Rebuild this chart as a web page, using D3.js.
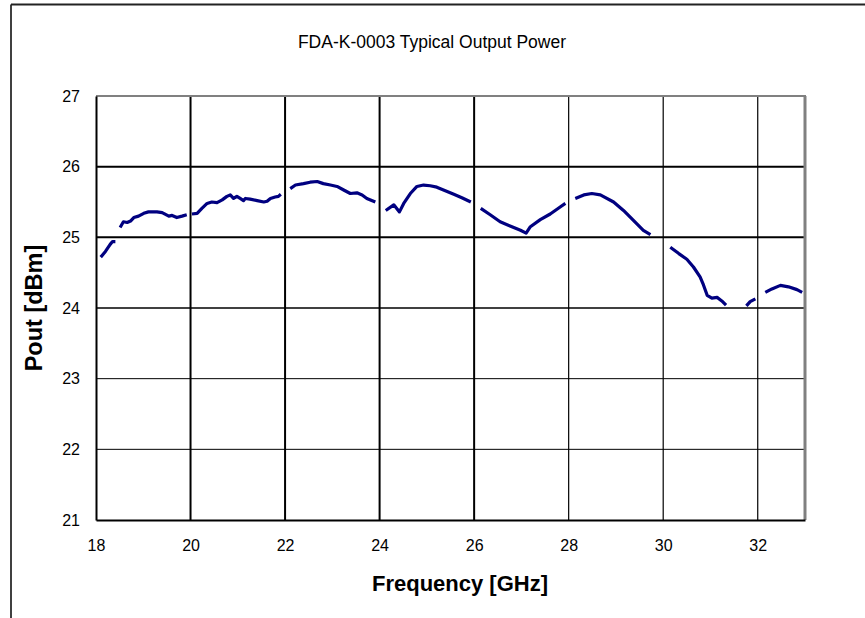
<!DOCTYPE html>
<html><head><meta charset="utf-8">
<script src="https://cdn.jsdelivr.net/npm/d3@7"></script>
<style>body{margin:0;background:#fff}svg{display:block}text{font-family:"Liberation Sans",Arial,sans-serif}</style>
</head><body><svg id="c" width="865" height="618"></svg>
<script>
const title = "FDA-K-0003 Typical Output Power";
const xTitle = "Frequency [GHz]";
const yTitle = "Pout [dBm]";
const xTicks = [18,20,22,24,26,28,30,32];
const yTicks = [21,22,23,24,25,26,27];
// null marks a break in the trace
const freq = [18.10,18.20,18.30,18.35,18.41,null,
  18.51,18.58,18.66,18.73,18.80,18.90,19.01,19.11,19.29,19.40,19.54,19.61,19.71,19.82,19.92,null,
  20.03,20.14,20.24,20.35,20.45,20.56,20.67,20.77,20.84,20.91,20.98,21.05,21.12,21.16,21.26,21.41,21.55,21.62,21.69,21.79,21.86,21.91,null,
  22.11,22.22,22.39,22.53,22.68,22.81,22.96,23.10,23.24,23.38,23.52,23.63,23.73,23.91,null,
  24.13,24.30,24.42,24.51,24.65,24.79,24.93,25.07,25.21,25.39,25.57,25.74,25.93,null,
  26.14,26.34,26.55,26.76,26.98,27.10,27.19,27.40,27.61,27.82,27.93,null,
  28.14,28.32,28.49,28.67,28.95,29.16,29.37,29.58,29.73,null,
  30.15,30.33,30.50,30.64,30.78,30.85,30.93,31.03,31.14,31.24,31.33,null,
  31.76,31.84,31.95,null,
  32.16,32.30,32.48,32.65,32.83,32.94];
const pout = [24.72,24.80,24.90,24.94,24.94,null,
  25.14,25.22,25.21,25.23,25.28,25.30,25.34,25.36,25.36,25.35,25.30,25.31,25.28,25.30,25.32,null,
  25.33,25.34,25.41,25.48,25.50,25.49,25.53,25.58,25.60,25.55,25.58,25.55,25.52,25.55,25.54,25.52,25.50,25.51,25.55,25.57,25.58,25.61,null,
  25.69,25.74,25.76,25.78,25.79,25.76,25.74,25.72,25.67,25.62,25.63,25.60,25.55,25.50,null,
  25.38,25.46,25.36,25.48,25.62,25.72,25.74,25.73,25.71,25.66,25.61,25.56,25.50,null,
  25.41,25.32,25.22,25.16,25.10,25.06,25.15,25.25,25.33,25.43,25.48,null,
  25.55,25.60,25.62,25.60,25.50,25.38,25.24,25.10,25.04,null,
  24.86,24.77,24.69,24.58,24.44,24.33,24.18,24.14,24.15,24.10,24.04,null,
  24.03,24.09,24.13,null,
  24.22,24.27,24.32,24.30,24.26,24.22];
const thickV = [20,22,24,26];
const gridW = {26:2, 25:2, 24:1.5, 23:1, 22:1};

const svg = d3.select("#c");
const L=96, R=805, T=96, B=520;
const x = d3.scaleLinear().domain([18,33]).range([L,R]);
const y = d3.scaleLinear().domain([21,27]).range([B,T]);

// outer frame
svg.append("line").attr("x1",11).attr("x2",11).attr("y1",4.5).attr("y2",618).attr("stroke","#000").attr("stroke-width",1.5);
svg.append("line").attr("x1",11).attr("x2",865).attr("y1",4.5).attr("y2",4.5).attr("stroke","#222").attr("stroke-width",2);

// gridlines
svg.append("g").selectAll("line").data(xTicks.filter(d=>d>18)).join("line")
  .attr("x1",d=>x(d)).attr("x2",d=>x(d)).attr("y1",T).attr("y2",B)
  .attr("stroke","#000").attr("stroke-width",d=>thickV.includes(d)?2:1.2);
svg.append("g").selectAll("line").data(yTicks.filter(d=>d>21&&d<27)).join("line")
  .attr("x1",L).attr("x2",R).attr("y1",d=>y(d)).attr("y2",d=>y(d))
  .attr("stroke","#000").attr("stroke-width",d=>gridW[d]||1);

// plot border: top/right gray
svg.append("line").attr("x1",L).attr("x2",R+1).attr("y1",T).attr("y2",T).attr("stroke","#808080").attr("stroke-width",2);
svg.append("line").attr("x1",R).attr("x2",R).attr("y1",T).attr("y2",B).attr("stroke","#808080").attr("stroke-width",3);

// axes
const xa = svg.append("g").attr("transform",`translate(0,${B})`)
  .call(d3.axisBottom(x).tickValues(xTicks).tickSize(0).tickPadding(20).tickFormat(d3.format("d")));
const ya = svg.append("g").attr("transform",`translate(${L},0)`)
  .call(d3.axisLeft(y).tickValues(yTicks).tickSize(0).tickPadding(16).tickFormat(d3.format("d")));
[xa,ya].forEach(a=>{a.select(".domain").attr("stroke","#000").attr("stroke-width",2);
  a.selectAll("text").attr("font-size",16).attr("fill","#000").attr("font-family","Liberation Sans, Arial, sans-serif");});

// data line
const line = d3.line().defined((d,i)=>freq[i]!==null&&pout[i]!==null)
  .x((d,i)=>x(freq[i])).y((d,i)=>y(pout[i]));
svg.append("path").datum(freq).attr("d",line).attr("fill","none")
  .attr("stroke","#000080").attr("stroke-width",3.2).attr("stroke-linejoin","round");

// titles
svg.append("text").attr("x",432).attr("y",48).attr("text-anchor","middle").attr("font-size",17.5).text(title);
svg.append("text").attr("x",460).attr("y",591).attr("text-anchor","middle").attr("font-size",22).attr("font-weight","bold").text(xTitle);
svg.append("text").attr("transform","translate(42,308) rotate(-90)").attr("text-anchor","middle").attr("font-size",23.5).attr("font-weight","bold").text(yTitle);
</script></body></html>
